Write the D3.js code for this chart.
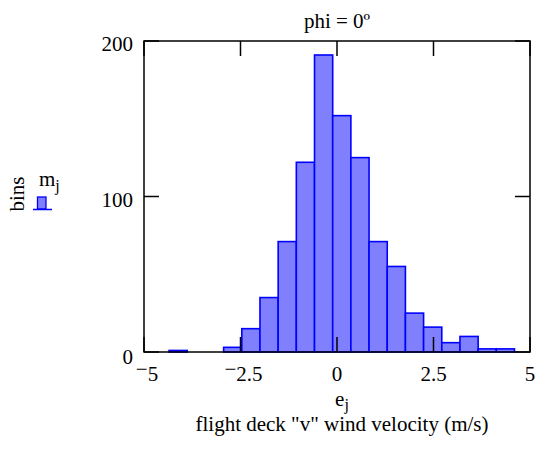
<!DOCTYPE html>
<html>
<head>
<meta charset="utf-8">
<script src="https://cdn.jsdelivr.net/npm/d3@7"></script>
<style>
  body { margin: 0; background: #fff; }
  text { font-family: "Liberation Serif", "Times New Roman", serif; fill: #000; }
</style>
</head>
<body>
<div id="container"></div>
<script>
/* histogram data: bin centres (e_j) and counts (m_j) */
var binCenters = [-4.115, -3.644, -3.173, -2.702, -2.231, -1.760, -1.289, -0.818, -0.347,
                  0.124, 0.595, 1.066, 1.537, 2.008, 2.479, 2.950, 3.421, 3.892, 4.363]
var binCounts  = [1, 0, 0, 3, 15, 35, 71, 122, 191, 152, 125, 71, 55, 25, 16, 6, 10, 2, 2]
var binWidth = 0.471

var xTicks = [-5, -2.5, 0, 2.5, 5]
var yTicks = [0, 100, 200]

/* setup the dimensions */
var W = 539, H = 456
var margin = { top: 41, left: 144, right: 9, bottom: 104 }
var width = W - margin.left - margin.right,
    height = H - margin.top - margin.bottom

var svg = d3.select("#container").append("svg")
  .attr("width", W).attr("height", H)

var g = svg.append("g")
  .attr("transform", "translate(" + margin.left + "," + margin.top + ")")

var x = d3.scaleLinear().domain([-5, 5]).range([0, width])
var y = d3.scaleLinear().domain([0, 200]).range([height, 0])

/* bars */
g.selectAll(".bar")
  .data(binCenters.map(function(c, i) { return { c: c, n: binCounts[i] } })
                  .filter(function(d) { return d.n > 0 }))
  .enter().append("rect")
    .attr("class", "bar")
    .attr("x", function(d) { return x(d.c - binWidth / 2) })
    .attr("width", function(d) { return x(d.c + binWidth / 2) - x(d.c - binWidth / 2) })
    .attr("y", function(d) { return y(d.n) })
    .attr("height", function(d) { return y(0) - y(d.n) })
    .attr("fill", "#8080ff")
    .attr("stroke", "#0000ff")
    .attr("stroke-width", 1.6)

/* frame with inward ticks on all four sides */
var tickLen = 15
var axes = g.append("g").attr("stroke", "#000").attr("fill", "none")
axes.append("rect")
  .attr("width", width).attr("height", height)
  .attr("stroke-width", 1.5)

xTicks.forEach(function(t) {
  axes.append("line").attr("x1", x(t)).attr("x2", x(t))
    .attr("y1", height).attr("y2", height - tickLen).attr("stroke-width", 1.5)
  axes.append("line").attr("x1", x(t)).attr("x2", x(t))
    .attr("y1", 0).attr("y2", tickLen).attr("stroke-width", 1.5)
})
yTicks.forEach(function(t) {
  axes.append("line").attr("x1", 0).attr("x2", tickLen)
    .attr("y1", y(t)).attr("y2", y(t)).attr("stroke-width", 1.5)
  axes.append("line").attr("x1", width).attr("x2", width - tickLen)
    .attr("y1", y(t)).attr("y2", y(t)).attr("stroke-width", 1.5)
})

/* tick labels */
var fs = 21, fsSub = 16
yTicks.forEach(function(t) {
  g.append("text")
    .attr("x", -11).attr("y", y(t) + (t === 0 ? 12 : 10))
    .attr("text-anchor", "end").attr("font-size", fs)
    .text(t)
})
xTicks.forEach(function(t) {
  var lab = g.append("text")
    .attr("x", x(t) + (t < 0 ? 3 : 0)).attr("y", height + 29)
    .attr("text-anchor", "middle").attr("font-size", fs)
  if (t < 0) {
    lab.append("tspan").attr("dy", -5).text("\u2212")
    lab.append("tspan").attr("dy", 5).text(Math.abs(t))
  } else {
    lab.text(t)
  }
})

/* title */
svg.append("text")
  .attr("x", margin.left + width / 2).attr("y", 28)
  .attr("text-anchor", "middle").attr("font-size", fs)
  .text("phi = 0\u00ba")

/* x axis label */
var xl = svg.append("text")
  .attr("x", 342).attr("y", 406)
  .attr("text-anchor", "middle").attr("font-size", fs)
xl.append("tspan").text("e")
xl.append("tspan").attr("dy", 4).attr("font-size", fsSub).text("j")
svg.append("text")
  .attr("x", 342).attr("y", 431)
  .attr("text-anchor", "middle").attr("font-size", fs)
  .text("flight deck \"v\" wind velocity (m/s)")

/* legend */
svg.append("text")
  .attr("transform", "translate(24,194) rotate(-90)")
  .attr("text-anchor", "middle").attr("font-size", fs)
  .text("bins")
var ml = svg.append("text")
  .attr("x", 39).attr("y", 186).attr("font-size", fs)
ml.append("tspan").text("m")
ml.append("tspan").attr("dy", 5).attr("font-size", fsSub).text("j")
svg.append("rect")
  .attr("x", 37.5).attr("y", 197).attr("width", 8.5).attr("height", 12)
  .attr("fill", "#8080ff").attr("stroke", "#0000ff").attr("stroke-width", 1.3)
svg.append("line")
  .attr("x1", 33).attr("x2", 52).attr("y1", 209.5).attr("y2", 209.5)
  .attr("stroke", "#0000ff").attr("stroke-width", 1.5)
</script>
</body>
</html>
